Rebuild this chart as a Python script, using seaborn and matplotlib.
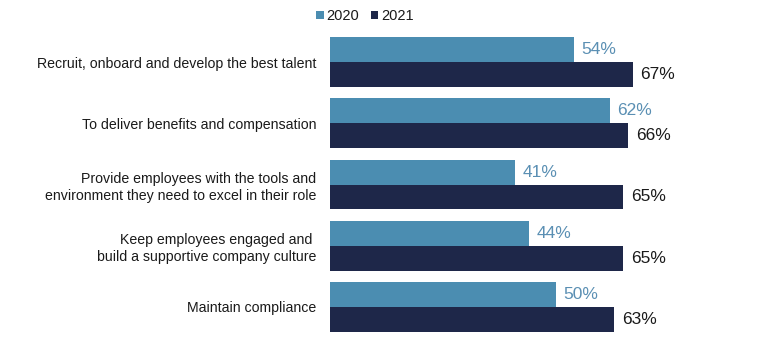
import matplotlib
matplotlib.use("Agg")
import matplotlib.pyplot as plt
import seaborn as sns
import pandas as pd

categories = [
    "Recruit, onboard and develop the best talent",
    "To deliver benefits and compensation",
    "Provide employees with the tools and\nenvironment they need to excel in their role",
    "Keep employees engaged and \nbuild a supportive company culture",
    "Maintain compliance",
]
years = ["2020", "2021"]
values_2020 = [54, 62, 41, 44, 50]
values_2021 = [67, 66, 65, 65, 63]

bar_colors = {"2020": "#4b8db1", "2021": "#1e2749"}
label_colors = {"2020": "#5a8fb3", "2021": "#1a1a1a"}

df = pd.DataFrame({
    "category": categories * 2,
    "year": [years[0]] * len(categories) + [years[1]] * len(categories),
    "value": values_2020 + values_2021,
})

sns.set_theme(style="white")
plt.rcParams["font.family"] = ["Liberation Sans", "DejaVu Sans"]

fig = plt.figure(figsize=(7.68, 3.43), dpi=100)
ax = fig.add_axes([330 / 768, 0.0157, 405 / 768, 0.8927])

sns.barplot(data=df, y="category", x="value", hue="year", hue_order=years,
            order=categories, palette=bar_colors, width=0.81, saturation=1,
            orient="h", ax=ax, legend=True, linewidth=0)

for container, yr in zip(ax.containers, years):
    ax.bar_label(container, labels=[f"{v:.0f}%" for v in container.datavalues],
                 padding=5.5, fontsize=12.5, color=label_colors[yr])

ax.set_xlim(0, 89.7)
ax.set_ylim(4.5, -0.5)
ax.set_xlabel("")
ax.set_ylabel("")
ax.set_xticks([])
ax.tick_params(axis="y", length=0, pad=10, labelsize=10.15, labelcolor="#1a1a1a")
for lbl in ax.get_yticklabels():
    lbl.set_linespacing(1.25)
for s in ax.spines.values():
    s.set_visible(False)

handles, labels = ax.get_legend_handles_labels()
ax.get_legend().remove()
fig.legend(handles, labels, loc="center", bbox_to_anchor=(365 / 768, 1 - 16 / 343),
           ncol=2, frameon=False, fontsize=10.5, handlelength=0.5, handleheight=0.5,
           handletextpad=0.2, columnspacing=0.8, labelcolor="#1a1a1a")

fig.savefig("out.png", dpi=100)
